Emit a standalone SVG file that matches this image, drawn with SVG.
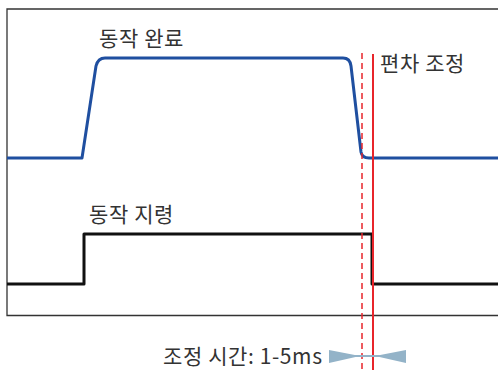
<svg xmlns="http://www.w3.org/2000/svg" width="498" height="370" viewBox="0 0 498 370">
<style>
.lbl{font-family:"Noto Sans CJK KR","Noto Sans",sans-serif;font-size:21px;letter-spacing:0.6px;fill:#333}
.frame{fill:none;stroke:#333;stroke-width:1.3}
.sig{fill:none;stroke-width:3;stroke-linejoin:round}
</style>
<rect width="498" height="370" fill="#fff"/>
<g id="frame"><path class="frame" d="M498,9 H7 V315.5 H498"/></g>
<g id="connectors">
<path id="response" class="sig" stroke="#1f4fa0" d="M7,158 H82 L96,66 Q98,58 105,58 H343 Q350,58 351,66 L361,152 Q362,158 369,158 H498"/>
<path id="command" class="sig" stroke="#111" d="M7,284 H84 V234 H372 V284 H498"/>
<line x1="362" y1="53" x2="362" y2="370" stroke="#e8252b" stroke-width="1.5" stroke-dasharray="6,4"/>
<line x1="373" y1="54" x2="373" y2="370" stroke="#e8252b" stroke-width="2"/>
<g id="bowtie" fill="#93b3c8">
<polygon points="329,350 360,356 329,363"/>
<polygon points="406,350 375,356 406,363"/>
<rect x="350" y="355" width="36" height="2"/>
</g>
</g>
<g id="lbl-done"><text class="lbl" x="99" y="46">동작 완료</text></g>
<g id="lbl-dev"><text class="lbl" x="380" y="71">편차 조정</text></g>
<g id="lbl-cmd"><text class="lbl" x="89" y="222">동작 지령</text></g>
<g id="lbl-time"><text class="lbl" x="163" y="364">조정 시간: 1-5ms</text></g>
</svg>
